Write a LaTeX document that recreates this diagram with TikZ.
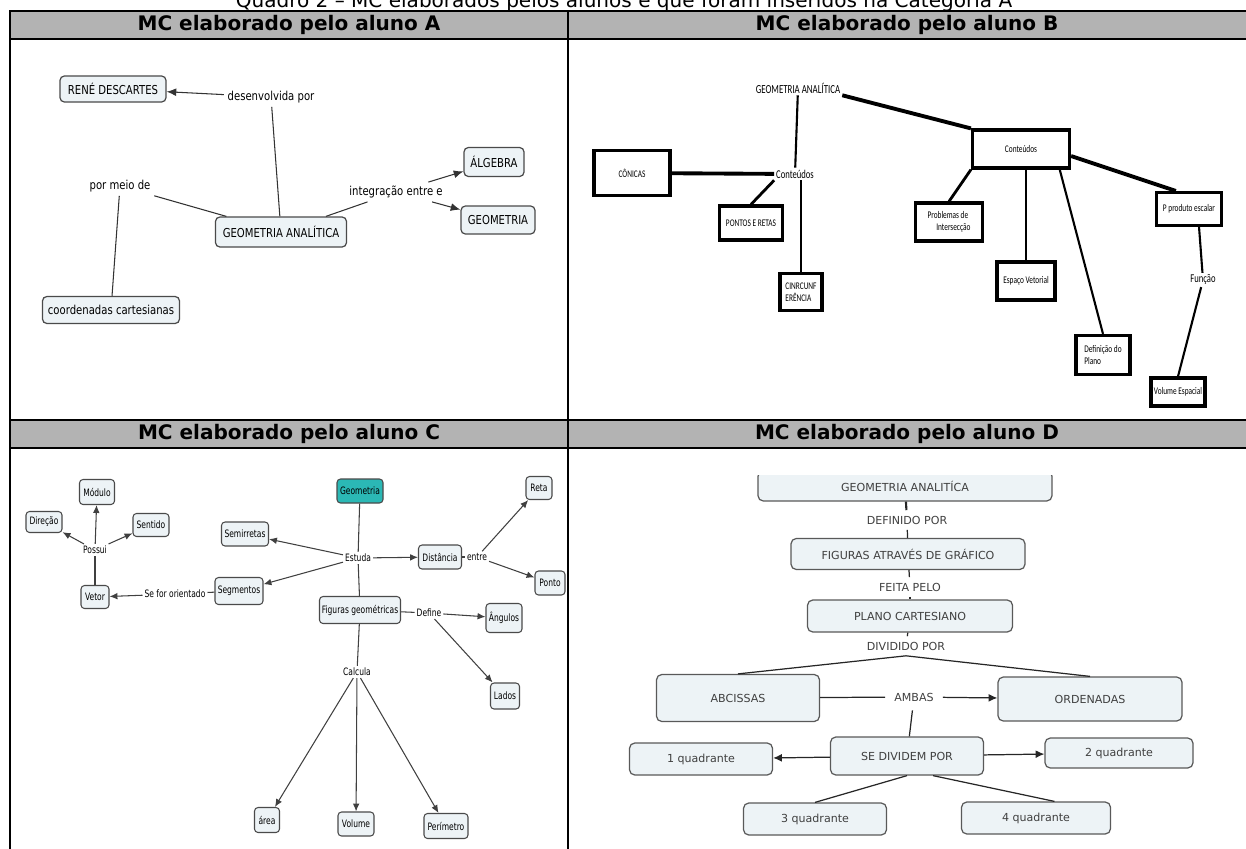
\documentclass[tikz,border=0pt]{standalone}
\usepackage{fontspec}
\setmainfont{DejaVu Sans}
\newfontfamily\mapafont[FakeStretch=0.82]{DejaVu Sans}
\newfontfamily\mapbfont[FakeStretch=0.72]{Carlito}
\newfontfamily\mapcfont[FakeStretch=0.74]{DejaVu Sans}
\usetikzlibrary{arrows.meta}
\definecolor{hdrgray}{HTML}{B3B3B3}
\definecolor{cmapfill}{HTML}{EDF3F6}
\definecolor{cmapline}{HTML}{4A4A4A}
\definecolor{geoteal}{HTML}{2BB8B5}

\begin{document}
\begin{tikzpicture}[x = 0.02cm, y = -0.02cm,
	sz/.style 2 args = {minimum width = #1*0.02cm, minimum height = #2*0.02cm},
	hdr/.style = {font = \fontsize{11.4}{13}\selectfont\bfseries},
	conca/.style = {draw = cmapline, fill = cmapfill, rounded corners = 2.5pt, line width = 0.7pt, inner sep = 0pt, font = \mapafont\fontsize{7}{8}\selectfont},
	linka/.style = {inner sep = 2pt, font = \mapafont\fontsize{7}{8}\selectfont},
	linea/.style = {draw = black!80, line width = 0.6pt},
	arra/.style = {linea, -{Latex[length = 5.5pt, width = 4.5pt]}},
	bbox/.style = {draw, line width = 1.8pt, fill = white, inner sep = 0pt, font = \mapbfont\fontsize{5.8}{6.8}\selectfont},
	btxt/.style = {inner sep = 1pt, font = \mapbfont\fontsize{6.8}{7.8}\selectfont},
	bthick/.style = {line width = 2.2pt},
	bmid/.style = {line width = 1.6pt},
	bthin/.style = {line width = 1.2pt},
	concc/.style = {draw = cmapline, fill = cmapfill, rounded corners = 2pt, line width = 0.6pt, inner sep = 0pt, font = \mapcfont\fontsize{5.8}{7}\selectfont},
	linkc/.style = {fill = white, inner sep = 1pt, font = \mapcfont\fontsize{5.8}{7}\selectfont},
	linec/.style = {draw = black!75, line width = 0.6pt},
	arrc/.style = {linec, -{Latex[length = 4.5pt, width = 3.8pt]}},
	concd/.style = {draw = black!65, fill = cmapfill, rounded corners = 3pt, line width = 0.7pt, inner sep = 0pt, text = black!75, font = \fontsize{6.3}{7.5}\selectfont},
	linkd/.style = {inner sep = 3pt, text = black!75, font = \fontsize{6.3}{7.5}\selectfont},
	lined/.style = {draw = black!85, line width = 0.7pt},
	arrd/.style = {lined, -{Latex[length = 5pt, width = 4.5pt]}}]
	\useasboundingbox (0,0) rectangle (1246,848);

	\node[anchor = base, font = \fontsize{11.4}{13}\selectfont] (cap) at (624,8) {Quadro 2 -- MC elaborados pelos alunos e que foram inseridos na Categoria A};
	\draw[line width = 1pt, fill = hdrgray] (10,11) rectangle (1260,39);
	\draw[line width = 1pt, fill = hdrgray] (10,420) rectangle (1260,448);
	\draw[line width = 1pt] (10,11) -- (10,860);
	\draw[line width = 1pt] (568,11) -- (568,860);
	\node[hdr] (ha) at (289,25) {MC elaborado pelo aluno A};
	\node[hdr] (hb) at (907,25) {MC elaborado pelo aluno B};
	\node[hdr] (hc) at (289,434) {MC elaborado pelo aluno C};
	\node[hdr] (hd) at (907,434) {MC elaborado pelo aluno D};

	% aluno A
	\node[conca, sz = {106}{26}] (rene) at (113,89) {RENÉ DESCARTES};
	\node[linka] (desenv) at (271,97) {desenvolvida por};
	\node[conca, sz = {131}{30}] (gaa) at (281,232) {GEOMETRIA ANALÍTICA};
	\node[linka] (pormeio) at (120,186) {por meio de};
	\node[conca, sz = {137}{27}] (coord) at (111,310) {coordenadas cartesianas};
	\node[linka] (integ) at (396,192) {integração entre e};
	\node[conca, sz = {60}{29}] (alg) at (494,162) {ÁLGEBRA};
	\node[conca, sz = {74}{28}] (geoa) at (498,220) {GEOMETRIA};
	\draw[linea] (gaa) -- (desenv);
	\draw[arra] (desenv) -- (rene);
	\draw[linea] (gaa) -- (pormeio);
	\draw[linea] (pormeio) -- (coord);
	\draw[linea] (gaa) -- (integ);
	\draw[arra] (integ) -- (alg);
	\draw[arra] (integ) -- (geoa);

	% aluno B
	\node[inner sep = 1pt, font = \mapbfont\fontsize{7}{8}\selectfont] (bga) at (798,88) {GEOMETRIA ANALÍTICA};
	\node[btxt] (bcont1) at (795,174) {Conteúdos};
	\node[bbox, sz = {76}{45}] (bcon) at (632,173) {CÔNICAS};
	\node[bbox, sz = {63}{34}] (bpont) at (751,223) {PONTOS E RETAS};
	\node[bbox, sz = {42}{37}, align = left] (bcirc) at (801,292) {CINRCUNF\\ERÊNCIA};
	\node[bbox, sz = {97}{38}] (bcont2) at (1021,149) {Conteúdos};
	\node[bbox, sz = {67}{38}, align = left] (bprob) at (949,222) {Problemas de\\\hspace*{5pt}Intersecção};
	\node[bbox, sz = {58}{38}] (besp) at (1026,281) {Espaço Vetorial};
	\node[bbox, sz = {54}{39}, align = left] (bdef) at (1103,355) {Definição do\\Plano};
	\node[bbox, sz = {65}{33}] (bprod) at (1189,209) {P produto escalar};
	\node[btxt] (bfunc) at (1203,280) {Função};
	\node[bbox, sz = {54}{28}] (bvol) at (1178,392) {Volume Espacial};
	\draw[bthick] (bga.south east) -- (bcont2.north west);
	\draw[bthin] (bga) -- (bcont1);
	\draw[bthick] (bcon) -- (bcont1);
	\draw[bmid] (bcont1.south west) -- (bpont.north);
	\draw[bthin] (bcont1.south -| bcirc.north) -- (bcirc.north);
	\draw[bmid] (bcont2.south west) -- (bprob.north);
	\draw[bthin] (bcont2.south -| besp.north) -- (besp.north);
	\draw[bthin] (bcont2.-28) -- (bdef.north);
	\draw[bthick] (bcont2.-8) -- (bprod.126);
	\draw[bthin] (bprod.-61) -- (bfunc);
	\draw[bthin] (bfunc) -- (bvol.north);

	% aluno C
	\node[concc, sz = {35}{25}] (mod) at (97,492) {Módulo};
	\node[concc, sz = {36}{21}] (dir) at (44,522) {Direção};
	\node[concc, sz = {36}{23}] (sen) at (151,525) {Sentido};
	\node[linkc] (poss) at (95,550) {Possui};
	\node[concc, sz = {28}{23}] (vet) at (95,597) {Vetor};
	\node[linkc] (seor) at (175,594) {Se for orientado};
	\node[concc, sz = {48}{27}] (seg) at (239,591) {Segmentos};
	\node[concc, sz = {47}{24}] (semi) at (245,534) {Semirretas};
	\node[concc, sz = {46}{24}, fill = geoteal] (geoc) at (360,491) {Geometria};
	\node[linkc] (estu) at (358,558) {Estuda};
	\node[concc, sz = {43}{24}] (dist) at (440,557) {Distância};
	\node[linkc] (entre) at (477,557) {entre};
	\node[concc, sz = {26}{23}] (reta) at (539,488) {Reta};
	\node[concc, sz = {30}{24}] (ponto) at (550,583) {Ponto};
	\node[concc, sz = {81}{27}] (fig) at (360,610) {Figuras geométricas};
	\node[linkc] (defi) at (429,613) {Define};
	\node[concc, sz = {36}{29}] (ang) at (504,618) {Ângulos};
	\node[concc, sz = {29}{26}] (lad) at (505,696) {Lados};
	\node[linkc] (calc) at (357,672) {Calcula};
	\node[concc, sz = {25}{25}] (area) at (267,820) {área};
	\node[concc, sz = {36}{24}] (vol) at (356,824) {Volume};
	\node[concc, sz = {44}{25}] (per) at (446,826) {Perímetro};
	\draw[linec] (vet) -- (poss);
	\draw[arrc] (poss) -- (mod);
	\draw[arrc] (poss) -- (dir);
	\draw[arrc] (poss) -- (sen);
	\draw[linec] (seg) -- (seor);
	\draw[arrc] (seor) -- (vet);
	\draw[linec] (geoc) -- (estu);
	\draw[arrc] (estu) -- (semi);
	\draw[arrc] (estu) -- (seg);
	\draw[arrc] (estu) -- (dist);
	\draw[linec] (estu) -- (fig);
	\draw[linec] (dist) -- (entre);
	\draw[arrc] (entre) -- (reta);
	\draw[arrc] (entre) -- (ponto);
	\draw[linec] (fig) -- (defi);
	\draw[arrc] (defi) -- (ang);
	\draw[arrc] (defi) -- (lad);
	\draw[linec] (fig) -- (calc);
	\draw[arrc] (calc) -- (area);
	\draw[arrc] (calc) -- (vol);
	\draw[arrc] (calc) -- (per);

	% aluno D
	\begin{scope}
		\clip (568,475) rectangle (1260,860);
		\node[concd, sz = {294}{30}] (dga) at (905,486) {GEOMETRIA ANALITÍCA};
	\end{scope}
	\node[linkd] (ddef) at (907,520) {DEFINIDO POR};
	\node[concd, sz = {234}{31}] (dfig) at (908,554) {FIGURAS ATRAVÉS DE GRÁFICO};
	\node[linkd] (dfeita) at (910,587) {FEITA PELO};
	\node[concd, sz = {205}{32}] (dplano) at (910,616) {PLANO CARTESIANO};
	\node[linkd] (ddiv) at (906,646) {DIVIDIDO POR};
	\node[concd, sz = {163}{47}] (dabc) at (738,698) {ABCISSAS};
	\node[concd, sz = {184}{44}] (dord) at (1090,699) {ORDENADAS};
	\node[linkd, inner sep = 5pt] (damb) at (914,697) {AMBAS};
	\node[concd, sz = {153}{38}] (dse) at (907,756) {SE DIVIDEM POR};
	\node[concd, sz = {143}{32}] (dq1) at (701,759) {1 quadrante};
	\node[concd, sz = {148}{30}] (dq2) at (1119,753) {2 quadrante};
	\node[concd, sz = {143}{32}] (dq3) at (815,819) {3 quadrante};
	\node[concd, sz = {149}{32}] (dq4) at (1036,818) {4 quadrante};
	\draw[lined, line width = 1.2pt] (dga) -- (ddef);
	\draw[lined] (ddef) -- (dfig);
	\draw[lined] (dfig) -- (dfeita);
	\draw[lined] (dfeita) -- (dplano);
	\draw[lined] (dplano) -- (ddiv);
	\draw[lined] (ddiv.south) -- (dabc.north);
	\draw[lined] (ddiv.south) -- (dord.north);
	\draw[lined] (dabc) -- (damb);
	\draw[arrd] (damb) -- (dord);
	\draw[lined] (damb) -- (dse);
	\draw[arrd] (dse) -- (dq1);
	\draw[arrd] (dse) -- (dq2);
	\draw[lined] (dse.south) -- (dq3.north);
	\draw[lined] (dse.-37) -- (dq4.42);
\end{tikzpicture}
\end{document}
